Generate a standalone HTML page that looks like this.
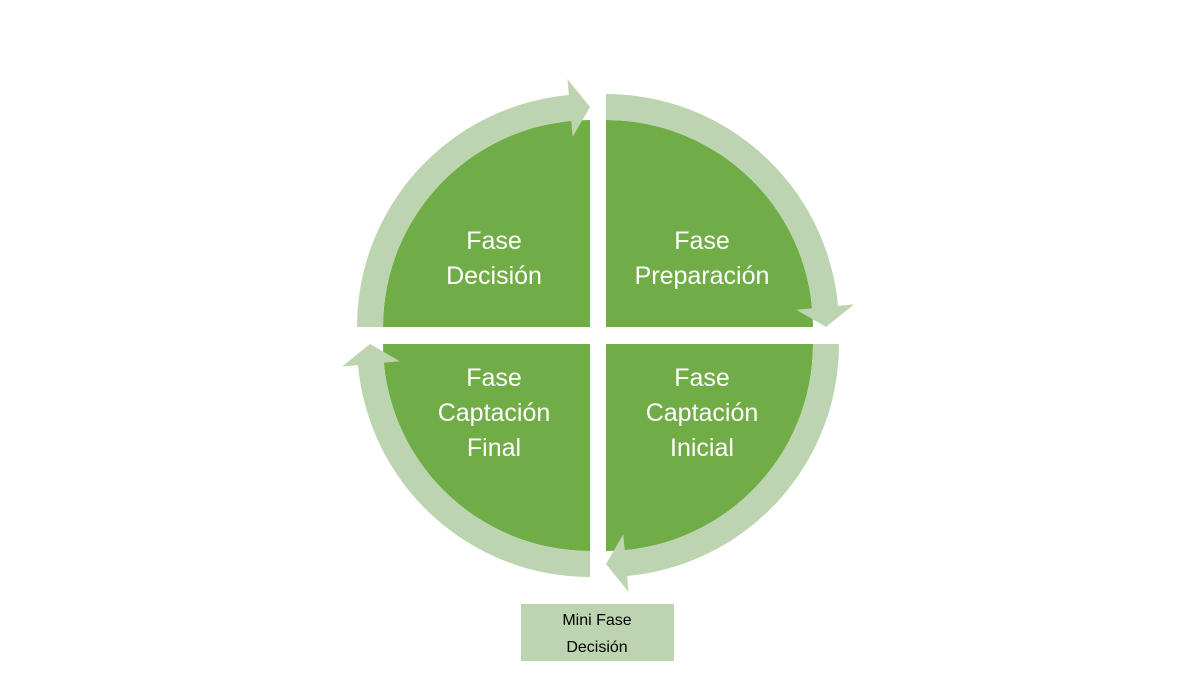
<!DOCTYPE html>
<html><head><meta charset="utf-8"><style>
html,body{margin:0;padding:0;background:#fff;}
svg{display:block;}
text{font-family:"Liberation Sans",sans-serif;}
</style></head><body>
<svg width="1200" height="675" viewBox="0 0 1200 675" xmlns="http://www.w3.org/2000/svg">
<defs>
<path id="q" d="M0,0 L-207,0 A207 207 0 0 1 0,-207 Z" fill="#70ad47"/>
<path id="a" d="M-233,0 A233 233 0 0 1 -21.1,-232 L-22.6,-248 L0,-220 L-17.3,-190.2 L-18.8,-206.2 A207 207 0 0 0 -207,0 Z" fill="#bcd4b0"/>
</defs>
<g transform="translate(590,327)"><use href="#q"/><use href="#a"/></g>
<g transform="translate(606,327) rotate(90)"><use href="#q"/><use href="#a"/></g>
<g transform="translate(606,344) rotate(180)"><use href="#q"/><use href="#a"/></g>
<g transform="translate(590,344) rotate(270)"><use href="#q"/><use href="#a"/></g>
<g fill="#fff" font-size="25" text-anchor="middle">
<text x="494" y="249">Fase</text>
<text x="494" y="284">Decisión</text>
<text x="702" y="249">Fase</text>
<text x="702" y="284">Preparación</text>
<text x="494" y="386">Fase</text>
<text x="494" y="421">Captación</text>
<text x="494" y="456">Final</text>
<text x="702" y="386">Fase</text>
<text x="702" y="421">Captación</text>
<text x="702" y="456">Inicial</text>
</g>
<rect x="521" y="604" width="153" height="57" fill="#bcd4b0"/>
<g fill="#000" font-size="16" text-anchor="middle">
<text x="597" y="625">Mini Fase</text>
<text x="597" y="652">Decisión</text>
</g>
</svg>
</body></html>
